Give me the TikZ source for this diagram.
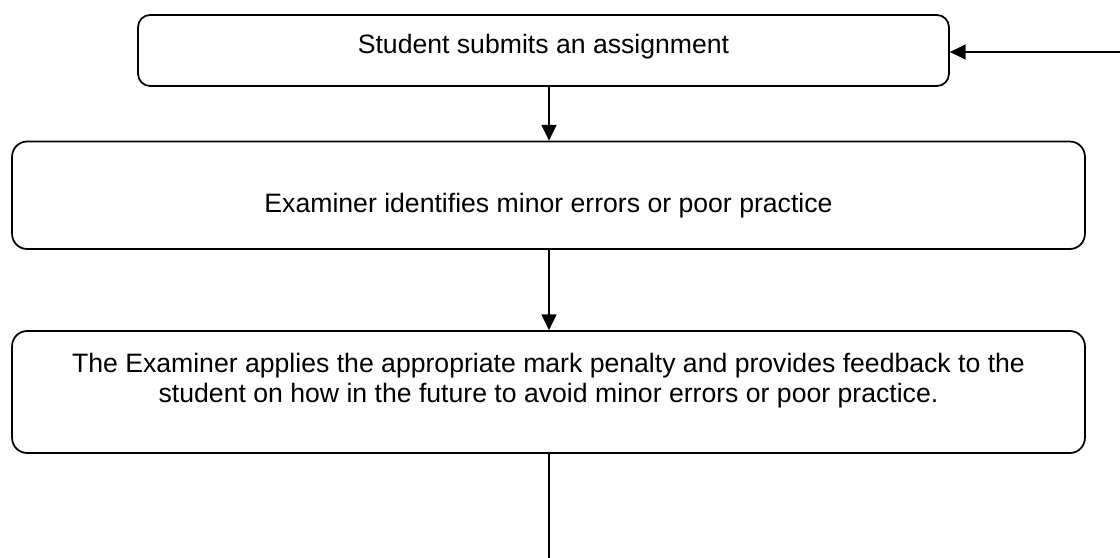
\documentclass[tikz,border=0pt]{standalone}
\usepackage{fontspec}
\setmainfont{Liberation Sans}
\usetikzlibrary{arrows.meta}

\begin{document}
\begin{tikzpicture}[x=0.02cm,y=-0.02cm,line width=1pt]
            \tikzstyle{stage}=[draw=black,rounded corners=0.3cm,fill=white,inner sep=0pt]
            \tikzstyle{caption}=[font=\fontsize{15.15pt}{17.07pt}\selectfont,align=center,inner sep=0pt]
            \tikzstyle{flow}=[-{Triangle[width=8.5pt,length=9pt]}]
                    \useasboundingbox (0,0) rectangle (1120,558);

                    \node[stage,rounded corners=0.24cm,minimum width=16.22cm,minimum height=1.42cm] (submit) at (543.5,50.5){};
                    \node[stage,minimum width=21.46cm,minimum height=2.15cm] (identify) at (548.5,195.25){};
                    \node[stage,minimum width=21.46cm,minimum height=2.44cm] (penalty) at (548.5,392){};

                    \node[caption,anchor=base] (submit-text) at (543.5,53.5){Student submits an assignment};
                    \node[caption,anchor=base] (identify-text) at (548.5,212){Examiner identifies minor errors or poor practice};
                    \node[caption] (penalty-text) at (548.5,381){The Examiner applies the appropriate mark penalty and provides feedback to the\\student on how in the future to avoid minor errors or poor practice.};

                    \coordinate (stem) at (549,0);
                    \coordinate (return) at (1120,52);
                    \coordinate (exit) at (549,558);

                \draw[flow] (submit.south -| stem) -- (identify.north -| stem);
                \draw[flow] (identify.south -| stem) -- (penalty.north -| stem);
                \draw (penalty.south -| stem) -- (exit);
                \draw[flow] (return) -- (submit.east |- return);
        \end{tikzpicture}
\end{document}
